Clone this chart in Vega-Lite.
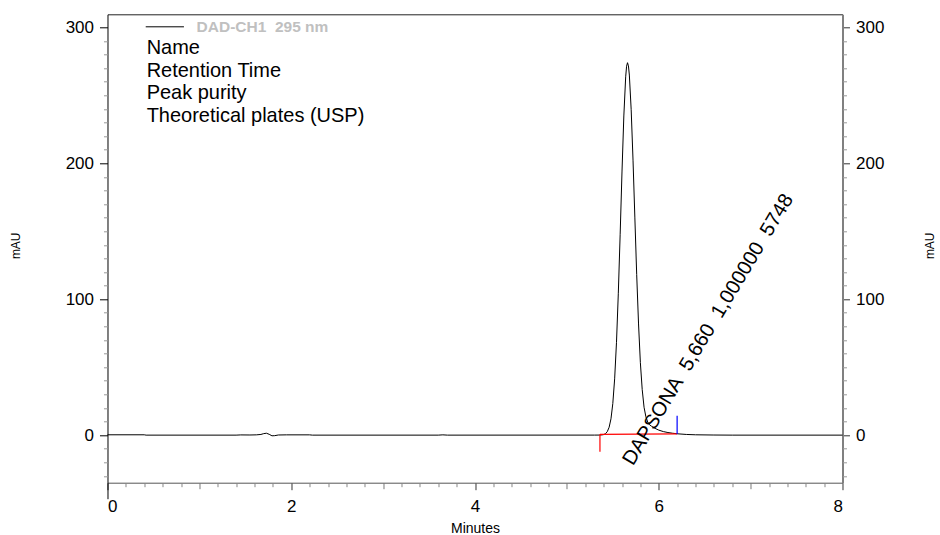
{
  "$schema": "https://vega.github.io/schema/vega-lite/v6.json",
  "width": 735,
  "height": 468.4,
  "autosize": {"type": "none"},
  "padding": {"left": 107.5, "top": 14.3, "right": 97.3, "bottom": 52.3},
  "background": "white",
  "config": {
    "view": {"stroke": null},
    "font": "Liberation Sans",
    "axis": {"grid": false, "labelFont": "Liberation Sans", "titleFont": "Liberation Sans", "labelColor": "#000", "titleColor": "#000", "titleFontWeight": "normal"}
  },
  "datasets": {
    "trace": [
      {"t": 0.0, "v": 0.25}, {"t": 0.40, "v": 0.25}, {"t": 0.42, "v": 0.0}, {"t": 1.40, "v": 0.0},
      {"t": 1.45, "v": 0.15}, {"t": 1.55, "v": 0.1}, {"t": 1.62, "v": 0.2}, {"t": 1.67, "v": 0.5},
      {"t": 1.70, "v": 1.1}, {"t": 1.73, "v": 1.4}, {"t": 1.76, "v": 0.6}, {"t": 1.79, "v": -0.5},
      {"t": 1.82, "v": -0.4}, {"t": 1.86, "v": 0.1}, {"t": 1.95, "v": 0.2}, {"t": 2.20, "v": 0.2},
      {"t": 2.23, "v": 0.0}, {"t": 3.60, "v": 0.0}, {"t": 3.65, "v": 0.2}, {"t": 3.70, "v": 0.0},
      {"t": 5.30, "v": 0.02}, {"t": 5.36, "v": 0.05}, {"t": 5.38, "v": 0.14}, {"t": 5.40, "v": 0.4},
      {"t": 5.42, "v": 1.06}, {"t": 5.44, "v": 2.6}, {"t": 5.46, "v": 5.8}, {"t": 5.48, "v": 12.0},
      {"t": 5.50, "v": 23.2}, {"t": 5.52, "v": 41.4}, {"t": 5.54, "v": 68.3}, {"t": 5.56, "v": 104.4},
      {"t": 5.58, "v": 147.8}, {"t": 5.60, "v": 193.6}, {"t": 5.62, "v": 234.8}, {"t": 5.64, "v": 263.6},
      {"t": 5.65, "v": 271.4}, {"t": 5.66, "v": 274.0}, {"t": 5.67, "v": 271.7}, {"t": 5.68, "v": 264.9},
      {"t": 5.70, "v": 239.4}, {"t": 5.72, "v": 202.3}, {"t": 5.74, "v": 159.8}, {"t": 5.76, "v": 118.1},
      {"t": 5.78, "v": 81.8}, {"t": 5.80, "v": 53.3}, {"t": 5.82, "v": 33.5}, {"t": 5.84, "v": 20.5},
      {"t": 5.86, "v": 13.5}, {"t": 5.88, "v": 9.6}, {"t": 5.90, "v": 7.6}, {"t": 5.92, "v": 6.6},
      {"t": 5.94, "v": 5.8}, {"t": 5.96, "v": 5.0}, {"t": 5.98, "v": 4.3}, {"t": 6.00, "v": 3.7},
      {"t": 6.05, "v": 2.6}, {"t": 6.10, "v": 1.9}, {"t": 6.15, "v": 1.4}, {"t": 6.20, "v": 1.0},
      {"t": 6.30, "v": 0.5}, {"t": 6.40, "v": 0.25}, {"t": 6.60, "v": 0.08}, {"t": 6.80, "v": 0.0},
      {"t": 8.0, "v": 0.0}
    ],
    "baseline": [{"t": 5.36, "v": 0.6}, {"t": 6.20, "v": 0.9}],
    "markers": [
      {"t": 5.36, "lo": -12.3, "hi": 0.6, "kind": "start"},
      {"t": 6.20, "lo": 0.9, "hi": 14.2, "kind": "end"}
    ],
    "legendline": [{"t": 0.416, "t2": 0.832, "v": 300.4}],
    "legendtext": [
      {"label": "Name", "t": 0.426, "v": 280.4},
      {"label": "Retention Time", "t": 0.426, "v": 263.7},
      {"label": "Peak purity", "t": 0.426, "v": 247.0},
      {"label": "Theoretical plates (USP)", "t": 0.426, "v": 230.3}
    ],
    "header": [{"label": "DAD-CH1\u00a0\u00a0295 nm", "t": 0.97, "v": 300.4}],
    "peaklabel": [{"label": "DAPSONA\u00a0\u00a05,660\u00a0\u00a01,000000\u00a0\u00a05748", "t": 5.72, "v": -23}]
  },
  "layer": [
    {
      "data": {"name": "trace"},
      "mark": {"type": "line", "color": "#000", "strokeWidth": 1},
      "encoding": {
        "x": {"field": "t", "type": "quantitative", "scale": {"domain": [0, 8], "nice": false, "zero": false},
          "axis": {"orient": "bottom", "values": [0, 2, 4, 6, 8], "tickSize": 7, "tickColor": "#333", "domainColor": "#555",
            "labelFontSize": 17, "labelPadding": 8.5, "title": "Minutes", "titleFontSize": 14, "titleY": 46, "titleBaseline": "middle"}},
        "y": {"field": "v", "type": "quantitative", "scale": {"domain": [-35, 309.6], "nice": false, "zero": false},
          "axis": {"orient": "left", "values": [0, 100, 200, 300], "tickSize": 8, "tickColor": "#000", "domainColor": "#000",
            "labelFontSize": 17, "labelPadding": 6, "title": "mAU", "titleFontSize": 12, "titleX": -91.8, "titleY": 231,
            "titleAngle": -90, "titleAlign": "center", "titleBaseline": "middle"}}
      }
    },
    {
      "data": {"name": "baseline"},
      "mark": {"type": "line", "color": "#ff0000", "strokeWidth": 1.2},
      "encoding": {
        "x": {"field": "t", "type": "quantitative", "scale": {"domain": [0, 8], "nice": false, "zero": false},
          "axis": {"orient": "bottom", "values": [0.2,0.4,0.6,0.8,1.2,1.4,1.6,1.8,2.2,2.4,2.6,2.8,3.2,3.4,3.6,3.8,4.2,4.4,4.6,4.8,5.2,5.4,5.6,5.8,6.2,6.4,6.6,6.8,7.2,7.4,7.6,7.8],
            "tickSize": 4, "tickColor": "#888", "domain": false, "labels": false, "title": null}},
        "y": {"field": "v", "type": "quantitative", "scale": {"domain": [-35, 309.6], "nice": false, "zero": false},
          "axis": {"orient": "left", "values": [-30,-20,-10,10,20,30,40,50,60,70,80,90,110,120,130,140,150,160,170,180,190,210,220,230,240,250,260,270,280,290],
            "tickSize": 4, "tickColor": "#999", "domain": false, "labels": false, "title": null}}
      }
    },
    {
      "data": {"name": "markers"},
      "mark": {"type": "rule", "strokeWidth": 1.2},
      "encoding": {
        "x": {"field": "t", "type": "quantitative", "scale": {"domain": [0, 8], "nice": false, "zero": false},
          "axis": {"orient": "bottom", "values": [1, 3, 5, 7], "tickSize": 6, "tickColor": "#777", "domain": false, "labels": false, "title": null}},
        "y": {"field": "lo", "type": "quantitative", "scale": {"domain": [-35, 309.6], "nice": false, "zero": false},
          "axis": {"orient": "right", "values": [0, 100, 200, 300], "tickSize": 7, "tickColor": "#333", "domainColor": "#808080", "domainWidth": 2,
            "labelFontSize": 17, "labelPadding": 6, "title": "mAU", "titleFontSize": 12, "titleX": 87, "titleY": 231,
            "titleAngle": -90, "titleAlign": "center", "titleBaseline": "middle"}},
        "y2": {"field": "hi"},
        "color": {"field": "kind", "type": "nominal", "scale": {"domain": ["start", "end"], "range": ["#ff0000", "#0000ff"]}, "legend": null}
      }
    },
    {
      "data": {"name": "legendline"},
      "mark": {"type": "rule", "color": "#000", "strokeWidth": 1},
      "encoding": {
        "x": {"field": "t", "type": "quantitative", "scale": {"domain": [0, 8], "nice": false, "zero": false},
          "axis": {"orient": "bottom", "values": [0], "tickSize": 16, "tickColor": "#000", "domain": false, "labels": false, "title": null}},
        "x2": {"field": "t2"},
        "y": {"field": "v", "type": "quantitative", "scale": {"domain": [-35, 309.6], "nice": false, "zero": false},
          "axis": {"orient": "right", "values": [-30,-20,-10,10,20,30,40,50,60,70,80,90,110,120,130,140,150,160,170,180,190,210,220,230,240,250,260,270,280,290],
            "tickSize": 4, "tickColor": "#999", "domain": false, "labels": false, "title": null}}
      }
    },
    {
      "data": {"name": "legendtext"},
      "mark": {"type": "text", "align": "left", "baseline": "alphabetic", "fontSize": 20, "color": "#000", "font": "Liberation Sans"},
      "encoding": {
        "x": {"field": "t", "type": "quantitative", "scale": {"domain": [0, 8], "nice": false, "zero": false}, "axis": null},
        "y": {"field": "v", "type": "quantitative", "scale": {"domain": [-35, 309.6], "nice": false, "zero": false}, "axis": null},
        "text": {"field": "label"}
      }
    },
    {
      "data": {"name": "header"},
      "mark": {"type": "text", "align": "left", "baseline": "middle", "fontSize": 15.5, "fontWeight": "bold", "color": "#c0c0c0", "font": "Liberation Sans"},
      "encoding": {
        "x": {"field": "t", "type": "quantitative", "scale": {"domain": [0, 8], "nice": false, "zero": false}, "axis": null},
        "y": {"field": "v", "type": "quantitative", "scale": {"domain": [-35, 309.6], "nice": false, "zero": false}, "axis": null},
        "text": {"field": "label"}
      }
    },
    {
      "data": {"name": "peaklabel"},
      "mark": {"type": "text", "align": "left", "baseline": "alphabetic", "fontSize": 20.2, "angle": -59, "color": "#000", "font": "Liberation Sans"},
      "encoding": {
        "x": {"field": "t", "type": "quantitative", "scale": {"domain": [0, 8], "nice": false, "zero": false},
          "axis": {"orient": "top", "ticks": false, "labels": false, "title": null, "domainColor": "#222"}},
        "y": {"field": "v", "type": "quantitative", "scale": {"domain": [-35, 309.6], "nice": false, "zero": false}, "axis": null},
        "text": {"field": "label"}
      }
    }
  ],
  "resolve": {"axis": {"x": "independent", "y": "independent"}}
}
